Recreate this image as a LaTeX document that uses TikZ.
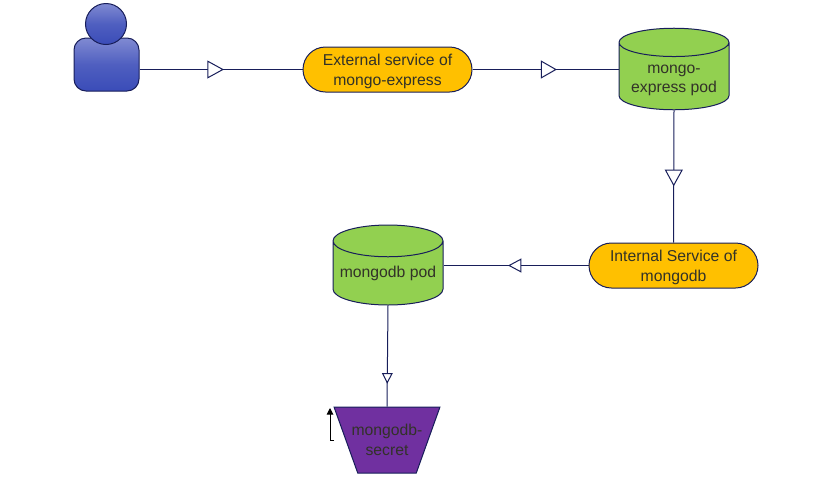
\documentclass[tikz,border=0pt]{standalone}
\usepackage{fontspec}
\setmainfont{Liberation Sans}
\usepackage{xcolor}
\usetikzlibrary{arrows.meta,positioning,shapes.geometric,shapes.misc,decorations.markings}
\definecolor{linknavy}{RGB}{24,30,90}
\definecolor{svcamber}{RGB}{255,192,0}
\definecolor{podgreen}{RGB}{146,208,80}
\definecolor{secretpurple}{RGB}{112,48,160}
\definecolor{inktext}{RGB}{50,50,40}
\tikzset{
  difftext/.style={font=\fontsize{11.8}{14.5}\selectfont,align=center,text=inktext},
  svcbox/.style={rounded rectangle,draw=linknavy,fill=svcamber,line width=0.75pt,minimum width=126.75pt,minimum height=33.75pt,inner sep=0pt,difftext},
  podcyl/.style={cylinder,shape border rotate=90,draw=linknavy,fill=podgreen,line width=0.75pt,minimum width=82.5pt,minimum height=60pt,aspect=0.33,inner sep=0pt,anchor=shape center,difftext},
  secretbox/.style={trapezium,shape border rotate=180,trapezium angle=53,trapezium stretches=true,draw=linknavy,fill=secretpurple,line width=0.75pt,minimum width=79.5pt,minimum height=49.5pt,inner ysep=0pt,inner xsep=-5pt,difftext},
  usrpart/.style={draw=linknavy,line width=0.75pt,top color=usrlight,bottom color=usrdark,middle color=usrdark!70!usrlight},
  link/.style={draw=linknavy,line width=0.75pt},
  midtip/.style n args={3}{postaction={decorate},decoration={markings,mark=at position #1 with {\arrow[line width=0.75pt]{Triangle[open,fill=white,length=#2,width=#3]}}}}
}
\definecolor{usrlight}{RGB}{128,138,210}
\definecolor{usrdark}{RGB}{58,76,184}
\begin{document}
\begin{tikzpicture}[x=0.75pt,y=0.75pt,yscale=-1]
\useasboundingbox (0,0) rectangle (832,476);

%User
\node [usrpart,rounded corners=9pt,minimum width=48.75pt,minimum height=39.75pt,inner sep=0pt] (usrbody) at (106.5,64.5) {};
\node [usrpart,circle,minimum size=30.75pt,inner sep=0pt] (usrhead) at (106,24) {};

%Services
\node [svcbox] (extsvc) at (387.5,69.5) {\rule{0pt}{11.5pt}External service of\\mongo-express};
\node [svcbox] (intsvc) at (673.5,265.5) {\rule{0pt}{11.5pt}Internal Service of\\mongodb};

%Pods
\node [podcyl] (expod) at (674,69) {\rule{0pt}{12pt}mongo-\\express pod};
\node [podcyl] (dbpod) at (388,265) {mongodb pod};

%Secret
\node [secretbox] (secret) at (387,440) {mongodb-\\secret};

%Connectors
\draw [link,midtip={0.518}{12.5pt}{13.5pt}] (usrbody.east |- extsvc.west) -- (extsvc.west);
\draw [link,midtip={0.578}{12pt}{13.5pt}] (extsvc.east) -- (expod.west |- extsvc.east);
\draw [link,midtip={0.575}{12.5pt}{13.5pt}] (expod.south) -- (intsvc.north);
\draw [link,midtip={0.555}{10pt}{10.5pt}] (intsvc.west) -- (dbpod.east |- intsvc.west);
\draw [link,midtip={0.775}{8pt}{8pt}] (dbpod.south) -- (secret.north);

%Small arrow beside secret
\coordinate (footend) at (334,440);
\coordinate (footbend) at (330,440);
\coordinate (uptip) at (330,408);
\draw [black,line width=0.75pt,-{Triangle[length=5pt,width=5pt]}] (footend) -- (footbend) -- (uptip);

\end{tikzpicture}
\end{document}
